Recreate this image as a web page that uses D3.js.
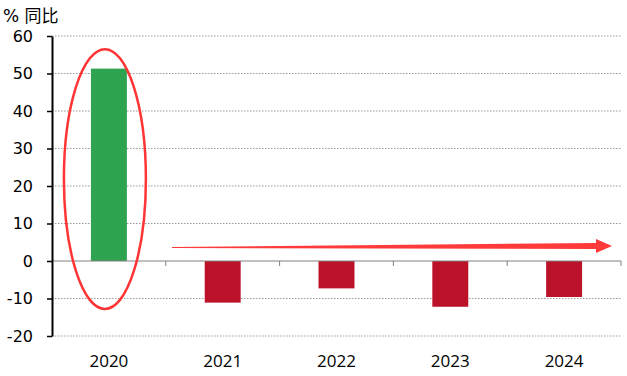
<!DOCTYPE html>
<html><head><meta charset="utf-8">
<script src="https://cdn.jsdelivr.net/npm/d3@7"></script>
<style>body{margin:0;background:#fff}</style>
</head><body>
<svg id="c" width="627" height="376"></svg>
<script>
const categories = ["2020","2021","2022","2023","2024"];
const values = [51.3, -11.1, -7.3, -12.2, -9.6];
const yTicks = [-20,-10,0,10,20,30,40,50,60];
const unitLabel = "% 同比";

(function(){
const svg = d3.select("#c");
const mL = 52, mR = 621, mT = 36, mB = 336;
const x = d3.scaleBand().domain(categories).range([mL, mR]).paddingInner(0.684).paddingOuter(0.342);
const xb = d3.scaleBand().domain(categories).range([mL, mR]);
const y = d3.scaleLinear().domain([-20, 60]).range([mB, mT]);

// gridlines
svg.append("g").selectAll("line").data(yTicks.filter(d => d !== 0)).join("line")
  .attr("x1", mL).attr("x2", mR).attr("y1", d => y(d)).attr("y2", d => y(d))
  .attr("stroke", "#9a9a9a").attr("stroke-width", 1).attr("stroke-dasharray", "1.5,1.5");

// bars
svg.append("g").selectAll("rect").data(categories).join("rect")
  .attr("x", d => x(d)).attr("width", x.bandwidth())
  .attr("y", (d, i) => y(Math.max(0, values[i])))
  .attr("height", (d, i) => Math.abs(y(values[i]) - y(0)))
  .attr("fill", (d, i) => values[i] >= 0 ? "#2ea451" : "#bc1229");

// zero line with category ticks
svg.append("line").attr("x1", mL).attr("x2", mR).attr("y1", y(0)).attr("y2", y(0))
  .attr("stroke", "#808080").attr("stroke-width", 1);
svg.append("g").selectAll("line").data(categories).join("line")
  .attr("x1", d => xb(d) + xb.bandwidth()).attr("x2", d => xb(d) + xb.bandwidth())
  .attr("y1", y(0)).attr("y2", y(0) + 5).attr("stroke", "#808080");

// x labels
svg.append("g").selectAll("text").data(categories).join("text")
  .attr("x", d => xb(d) + xb.bandwidth() / 2).attr("y", 367)
  .attr("text-anchor", "middle").attr("font-family", "'Open Sans', Arial, sans-serif")
  .attr("font-size", 17).attr("fill", "#000").text(d => d);

// y axis
const yAxis = d3.axisLeft(y).tickValues(yTicks).tickFormat(d => String(d))
  .tickSize(5).tickSizeOuter(0).tickPadding(14);
const ga = svg.append("g").attr("transform", `translate(${mL},0)`).call(yAxis);
ga.select(".domain").attr("stroke", "#000").attr("stroke-width", 2);
ga.selectAll(".tick line").attr("stroke", "#000").attr("stroke-width", 1.5);
ga.selectAll(".tick text").attr("font-family", "DejaVu Sans, Verdana, sans-serif")
  .attr("font-size", 16).attr("fill", "#000");

// unit label
svg.append("text").attr("x", 3).attr("y", 22).attr("font-family", "DejaVu Sans, 'Noto Sans CJK SC', sans-serif")
  .attr("font-size", 17).attr("fill", "#000").text(unitLabel);

// ellipse annotation around 2020
const cx = xb("2020") + xb.bandwidth() / 2 - 4;
svg.append("ellipse").attr("cx", cx).attr("cy", (y(56.5) + y(-12.8)) / 2)
  .attr("rx", 41).attr("ry", (y(-12.8) - y(56.5)) / 2)
  .attr("fill", "none").attr("stroke", "#ff3535").attr("stroke-width", 2.5);

// tapered arrow
const ax0 = 172, ay0 = y(3.6), ax1 = 612, ay1 = y(4.0);
const headStart = 596;
const headY = y(4.0);
svg.append("path").attr("fill", "#ff3a3a")
  .attr("d", `M${ax0},${ay0 - 0.6} L${headStart},${headY - 3} L${headStart},${headY - 7} L${ax1},${ay1} L${headStart},${headY + 7} L${headStart},${headY + 3} L${ax0},${ay0 + 0.6} Z`);
})();
</script>
</body></html>
